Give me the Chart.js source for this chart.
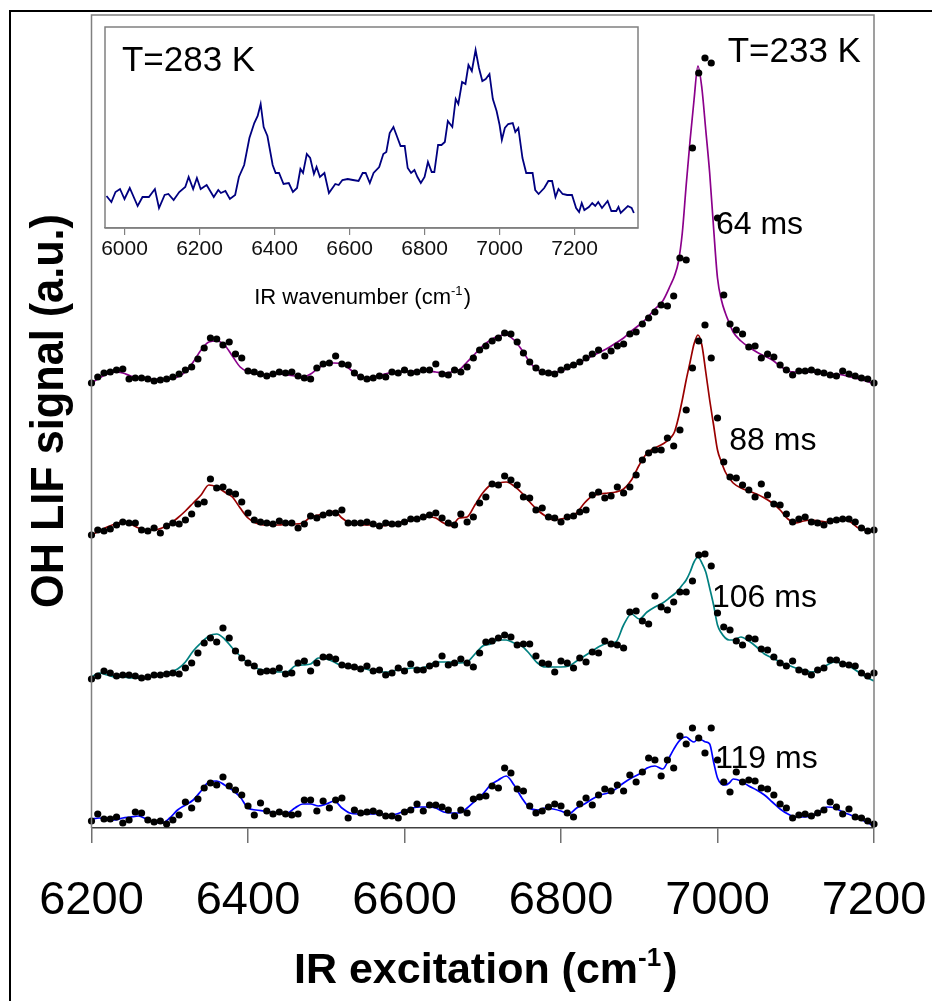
<!DOCTYPE html>
<html>
<head>
<meta charset="utf-8">
<script src="https://cdn.jsdelivr.net/npm/chart.js@4.4.1/dist/chart.umd.min.js"></script>
<style>
    html, body { margin: 0; padding: 0; background: #fff; }
    body { width: 932px; height: 1001px; position: relative; overflow: hidden; }
    #outer { position: absolute; left: 9px; top: 10px; width: 1000px; height: 1100px;
             border-left: 2px solid #000; border-top: 2px solid #000; }
    #main { position: absolute; left: 0; top: 0; }
    #inset { position: absolute; left: 60px; top: 17px; }
</style>
</head>
<body>
<div id="outer"></div>
<canvas id="main" width="932" height="1001"></canvas>
<canvas id="inset" width="620" height="300"></canvas>
<script>
// wavenumbers (cm-1) of the measured points, T = 233 K
const wnPts = [
    6200, 6208, 6216, 6224, 6232, 6240, 6248, 6256, 6264, 6272,
    6280, 6288, 6296, 6304, 6312, 6320, 6328, 6336, 6344, 6352,
    6360, 6368, 6376, 6384, 6392, 6400, 6408, 6416, 6424, 6432,
    6440, 6448, 6456, 6464, 6472, 6480, 6488, 6496, 6504, 6512,
    6520, 6528, 6536, 6544, 6552, 6560, 6568, 6576, 6584, 6592,
    6600, 6608, 6616, 6624, 6632, 6640, 6648, 6656, 6664, 6672,
    6680, 6688, 6696, 6704, 6712, 6720, 6728, 6736, 6744, 6752,
    6760, 6768, 6776, 6784, 6792, 6800, 6808, 6816, 6824, 6832,
    6840, 6848, 6856, 6864, 6872, 6880, 6888, 6896, 6904, 6912,
    6920, 6928, 6936, 6944, 6952, 6960, 6968, 6976, 6984, 6992,
    7000, 7008, 7016, 7024, 7032, 7040, 7048, 7056, 7064, 7072,
    7080, 7088, 7096, 7104, 7112, 7120, 7128, 7136, 7144, 7152,
    7160, 7168, 7176, 7184, 7192, 7200
];

// OH LIF signal (a.u., traces offset) for each delay
const pts64 = [
    445, 451, 455, 456, 458, 459, 449, 450, 450, 449,
    447, 448, 449, 451, 454, 458, 461, 469, 480, 490,
    489, 483, 486, 474, 470, 457, 456, 454, 452, 454,
    456, 455, 456, 452, 450, 449, 460, 464, 465, 472,
    464, 463, 455, 451, 449, 450, 452, 451, 456, 455,
    458, 455, 456, 458, 458, 464, 454, 453, 458, 456,
    461, 470, 478, 482, 487, 490, 495, 494, 486, 475,
    466, 460, 456, 455, 454, 458, 461, 463, 466, 470,
    474, 478, 472, 477, 482, 484, 494, 496, 504, 510,
    516, 523, 522, 532, 570, 568, 680, 755, 770, 765,
    610, 533, 504, 498, 494, 481, 482, 470, 474, 471,
    463, 458, 453, 457, 457, 458, 456, 455, 453, 452,
    457, 454, 452, 450, 449, 445
];
const pts88 = [
    293, 298, 297, 299, 303, 306, 305, 305, 298, 297,
    300, 295, 302, 305, 304, 308, 314, 324, 326, 349,
    340, 341, 336, 334, 326, 315, 308, 306, 305, 304,
    307, 305, 305, 300, 304, 312, 310, 313, 315, 315,
    318, 305, 305, 305, 306, 304, 302, 305, 304, 304,
    306, 309, 309, 311, 313, 315, 310, 305, 303, 314,
    306, 311, 325, 331, 344, 343, 352, 348, 343, 331,
    330, 318, 320, 311, 310, 306, 311, 312, 316, 318,
    333, 336, 330, 332, 341, 335, 341, 353, 368, 375,
    378, 378, 390, 382, 398, 418, 460, 487, 503, 470,
    410, 366, 351, 350, 343, 338, 331, 344, 333, 324,
    323, 314, 306, 309, 311, 306, 305, 303, 307, 308,
    309, 309, 306, 300, 297, 298
];
const pts106 = [
    149, 152, 157, 155, 152, 153, 153, 152, 150, 151,
    153, 153, 154, 155, 154, 160, 165, 175, 185, 190,
    186, 200, 190, 177, 170, 165, 162, 156, 157, 157,
    160, 154, 155, 165, 167, 157, 165, 171, 171, 169,
    163, 162, 161, 159, 162, 157, 158, 153, 155, 160,
    157, 164, 158, 158, 162, 164, 172, 163, 165, 169,
    165, 161, 175, 186, 187, 190, 193, 191, 183, 184,
    184, 172, 165, 164, 156, 167, 165, 160, 170, 166,
    176, 175, 187, 184, 183, 180, 216, 217, 207, 204,
    232, 221, 218, 226, 236, 236, 247, 273, 274, 262,
    215, 201, 198, 187, 183, 190, 189, 179, 178, 171,
    165, 162, 167, 158, 156, 153, 158, 160, 168, 168,
    164, 163, 162, 155, 152, 155
];
const pts119 = [
    7, 14, 9, 9, 11, 5, 8, 16, 15, 8,
    6, 7, 4, 8, 13, 26, 20, 29, 40, 45,
    43, 51, 42, 38, 33, 22, 13, 25, 17, 14,
    16, 14, 13, 14, 28, 28, 17, 27, 20, 28,
    30, 10, 18, 15, 16, 17, 15, 12, 12, 10,
    16, 18, 24, 17, 23, 23, 21, 18, 12, 18,
    15, 29, 31, 32, 42, 40, 60, 55, 39, 37,
    22, 15, 17, 21, 24, 22, 15, 11, 24, 30,
    23, 33, 39, 37, 43, 37, 53, 46, 56, 70,
    68, 52, 68, 60, 92, 84, 100, 90, 75, 100,
    68, 46, 36, 56, 46, 48, 47, 40, 39, 33,
    24, 20, 10, 13, 14, 12, 15, 18, 26, 21,
    14, 19, 11, 10, 7, 4
];

// wavenumbers of the smoothed curves
const wnFit = [
    6200, 6210, 6220, 6230, 6240, 6250, 6260, 6270, 6280, 6290,
    6300, 6310, 6320, 6330, 6340, 6350, 6360, 6370, 6380, 6390,
    6400, 6410, 6420, 6430, 6440, 6450, 6460, 6470, 6480, 6490,
    6500, 6510, 6520, 6530, 6540, 6550, 6560, 6570, 6580, 6590,
    6600, 6610, 6620, 6630, 6640, 6650, 6660, 6670, 6680, 6690,
    6700, 6710, 6720, 6730, 6740, 6750, 6760, 6770, 6780, 6790,
    6800, 6810, 6820, 6830, 6840, 6850, 6860, 6870, 6880, 6890,
    6900, 6910, 6920, 6930, 6940,
    6945, 6950, 6955, 6960, 6965, 6970, 6975, 6980, 6985, 6990, 6995, 7000, 7005, 7010, 7015, 7020,
    7030, 7040, 7050, 7060, 7070, 7080, 7090, 7100, 7110, 7120, 7130, 7140, 7150, 7160, 7170, 7180, 7190, 7200
];
const fit64 = [
    445, 450, 454, 456, 455, 452, 450, 449, 449, 448,
    449, 451, 456, 466, 478, 486, 487, 483, 472, 461,
    456, 454, 453, 454, 454, 453, 452, 451, 454, 460,
    464, 465, 464, 459, 452, 450, 451, 453, 455, 456,
    456, 457, 457, 457, 456, 455, 456, 458, 466, 474,
    482, 488, 492, 493, 488, 478, 466, 458, 456, 456,
    457, 460, 464, 468, 472, 476, 480, 485, 490, 497,
    503, 510, 519, 527, 543,
    552, 566, 595, 643, 688, 728, 762, 740, 698, 655, 600, 550, 528, 515, 505, 496,
    487, 481, 476, 472, 468, 462, 457, 456, 456, 456, 455, 454, 454, 453, 451, 449, 447, 444
];
const fit88 = [
    293, 297, 301, 304, 306, 304, 300, 298, 298, 300,
    304, 310, 317, 325, 333, 343, 341, 336, 331, 320,
    310, 305, 303, 303, 303, 304, 304, 305, 311, 313,
    314, 317, 310, 305, 304, 303, 303, 302, 303, 305,
    307, 308, 310, 311, 310, 305, 302, 310, 311, 323,
    335, 343, 345, 346, 342, 335, 326, 318, 312, 308,
    309, 311, 315, 325, 332, 334, 335, 336, 339, 348,
    363, 375, 380, 384, 390,
    396, 410, 428, 448, 466, 484, 493, 483, 456, 428, 403, 378, 366, 356, 350, 345,
    340, 337, 334, 330, 325, 318, 309, 305, 307, 308, 307, 306, 307, 309, 306, 300, 298, 297
];
const fit106 = [
    151, 155, 153, 151, 151, 150, 150, 151, 152, 154,
    156, 159, 166, 177, 185, 192, 194, 189, 180, 172,
    165, 160, 158, 157, 156, 156, 162, 163, 164, 170,
    169, 166, 162, 161, 160, 159, 157, 156, 156, 158,
    159, 160, 160, 162, 166, 166, 166, 165, 166, 174,
    182, 184, 188, 188, 185, 182, 174, 165, 161, 161,
    161, 162, 167, 172, 177, 182, 185, 186, 203, 214,
    209, 216, 221, 225, 231,
    234, 238, 243, 248, 256, 266, 271, 265, 256, 240, 223, 203, 195, 190, 188, 188,
    191, 187, 181, 174, 170, 166, 163, 160, 158, 156, 158, 163, 166, 164, 161, 156, 151, 147
];
const fit119 = [
    9, 10, 9, 8, 10, 11, 12, 9, 6, 5,
    10, 18, 23, 28, 37, 46, 47, 43, 38, 31,
    20, 18, 17, 16, 15, 15, 20, 24, 24, 22,
    24, 27, 20, 15, 14, 14, 14, 14, 13, 14,
    17, 20, 21, 21, 20, 16, 15, 15, 20, 27,
    34, 43, 48, 52, 43, 30, 20, 18, 20, 19,
    17, 14, 20, 24, 29, 33, 35, 39, 45, 50,
    54, 60, 62, 59, 73,
    80, 86, 90, 91, 88, 86, 89, 88, 86, 84, 66, 50, 44, 43, 45, 49,
    47, 42, 38, 33, 26, 19, 14, 11, 11, 12, 16, 21, 20, 16, 13, 10, 6, 2
];
const mainTicks = [6200, 6400, 6600, 6800, 7000, 7200];

// inset, T = 283 K
const wn283 = [
    5952, 5965, 5976, 5988, 6000, 6014, 6035, 6048, 6065, 6081,
    6092, 6107, 6117, 6131, 6146, 6162, 6171, 6183, 6193, 6203,
    6219, 6238, 6250, 6257, 6269, 6281, 6295, 6305, 6319, 6333,
    6346, 6355, 6363, 6371, 6381, 6395, 6403, 6412, 6424, 6438,
    6449, 6460, 6469, 6476, 6486, 6495, 6505, 6512, 6521, 6533,
    6545, 6562, 6571, 6581, 6595, 6609, 6624, 6635, 6643, 6654,
    6664, 6679, 6690, 6698, 6707, 6717, 6726, 6736, 6747, 6755,
    6764, 6773, 6781, 6790, 6800, 6809, 6819, 6826, 6836, 6845,
    6854, 6862, 6874, 6883, 6890, 6900, 6909, 6917, 6926, 6936,
    6945, 6954, 6963, 6973, 6982, 6992, 7000, 7006, 7014, 7023,
    7035, 7042, 7050, 7061, 7071, 7079, 7088, 7095, 7104, 7119,
    7130, 7140, 7149, 7157, 7168, 7180, 7193, 7204, 7212, 7219,
    7226, 7238, 7247, 7255, 7263, 7273, 7288, 7298, 7311, 7317,
    7323, 7342, 7352, 7358
];
const sig283 = [
    32, 26, 36, 39, 29, 40, 22, 31, 31, 39,
    20, 33, 34, 28, 36, 41, 51, 39, 50, 39,
    43, 31, 38, 35, 37, 29, 33, 51, 63, 90,
    105, 112, 124, 101, 92, 63, 55, 55, 44, 45,
    36, 40, 59, 55, 74, 70, 54, 61, 51, 55,
    35, 44, 43, 48, 49, 48, 47, 55, 55, 45,
    55, 61, 74, 76, 95, 101, 92, 82, 82, 60,
    55, 58, 51, 45, 51, 66, 56, 56, 83, 83,
    86, 107, 101, 129, 124, 146, 144, 163, 157, 178,
    160, 147, 149, 154, 129, 117, 103, 88, 100, 104,
    105, 96, 100, 70, 55, 55, 55, 38, 34, 40,
    47, 47, 31, 39, 34, 33, 33, 20, 16, 25,
    18, 21, 25, 22, 26, 20, 27, 17, 17, 21,
    15, 22, 20, 15
];
const insetTicks = [6000, 6200, 6400, 6600, 6800, 7000, 7200];

const FONT = "'Liberation Sans', Arial, sans-serif";

function toXY(xs, ys) {
    return xs.map((x, i) => ({ x: x, y: ys[i] }));
}

function dots(values) {
    return {
        data: toXY(wnPts, values),
        showLine: false,
        pointRadius: 3.6,
        pointHoverRadius: 3.6,
        pointBackgroundColor: '#000',
        pointBorderWidth: 0,
        clip: false,
        order: 0
    };
}

function fit(values, color) {
    return {
        data: toXY(wnFit, values),
        borderColor: color,
        borderWidth: 1.7,
        pointRadius: 0,
        cubicInterpolationMode: 'monotone',
        order: 1
    };
}

// text with a superscript, e.g. "(cm-1)"
function drawSupText(ctx, parts, cx, y, size, weight) {
    const big = weight + ' ' + size + 'px ' + FONT;
    const small = weight + ' ' + Math.round(size * 0.6) + 'px ' + FONT;
    ctx.save();
    ctx.font = big;
    const w1 = ctx.measureText(parts[0]).width;
    const w3 = ctx.measureText(parts[2]).width;
    ctx.font = small;
    const w2 = ctx.measureText(parts[1]).width;
    let x = cx - (w1 + w2 + w3) / 2;
    ctx.fillStyle = '#000';
    ctx.textAlign = 'left';
    ctx.textBaseline = 'alphabetic';
    ctx.font = big;
    ctx.fillText(parts[0], x, y);
    x += w1;
    ctx.font = small;
    ctx.fillText(parts[1], x, y - size * 0.4);
    x += w2 + size * 0.05;
    ctx.font = big;
    ctx.fillText(parts[2], x, y);
    ctx.restore();
}

// labels placed at data coordinates
const mainNotes = [
    { x: 7013, y: 766, text: 'T=233 K', size: 35 },
    { x: 6998, y: 594, text: '64 ms', size: 32 },
    { x: 7015, y: 378, text: '88 ms', size: 32 },
    { x: 6993, y: 221, text: '106 ms', size: 32 },
    { x: 6997, y: 60, text: '119 ms', size: 32 }
];

const framePlugin = {
    id: 'frame',
    afterDraw(chart, args, opts) {
        const { ctx, chartArea: a } = chart;
        ctx.save();
        ctx.strokeStyle = opts.color;
        ctx.lineWidth = 1.5;
        ctx.beginPath();
        ctx.moveTo(a.left, a.bottom);
        ctx.lineTo(a.left, a.top);
        ctx.lineTo(a.right, a.top);
        ctx.lineTo(a.right, a.bottom);
        if (opts.closed) ctx.lineTo(a.left, a.bottom);
        ctx.stroke();
        ctx.restore();
    }
};

const mainText = {
    id: 'mainText',
    afterDraw(chart) {
        const { ctx, chartArea: a, scales: { x, y } } = chart;
        ctx.save();
        ctx.fillStyle = '#000';
        ctx.textAlign = 'left';
        ctx.textBaseline = 'alphabetic';
        mainNotes.forEach(n => {
            ctx.font = n.size + 'px ' + FONT;
            ctx.fillText(n.text, x.getPixelForValue(n.x), y.getPixelForValue(n.y));
        });
        // y title, slightly narrow like the original
        ctx.translate(63, 411);
        ctx.rotate(-Math.PI / 2);
        ctx.scale(0.94, 1);
        ctx.textAlign = 'center';
        ctx.font = 'bold 46px ' + FONT;
        ctx.fillText('OH LIF signal (a.u.)', 0, 0);
        ctx.restore();
        drawSupText(ctx, ['IR excitation (cm', '-1', ')'], (a.left + a.right) / 2 + 2, 983, 43, 'bold');
    }
};

const insetText = {
    id: 'insetText',
    afterDraw(chart) {
        const { ctx, scales: { x, y } } = chart;
        ctx.save();
        ctx.fillStyle = '#000';
        ctx.font = '35px ' + FONT;
        ctx.textAlign = 'left';
        ctx.fillText('T=283 K', x.getPixelForValue(5993), y.getPixelForValue(157));
        ctx.restore();
        drawSupText(ctx, ['IR wavenumber (cm', '-1', ')'], 302, 287, 22, 'normal');
    }
};

function fixedTicks(list) {
    return s => { s.ticks = list.map(v => ({ value: v })); };
}

new Chart(document.getElementById('main'), {
    type: 'line',
    data: {
        datasets: [
            dots(pts64), dots(pts88), dots(pts106), dots(pts119),
            fit(fit64, '#8b008b'),
            fit(fit88, '#990000'),
            fit(fit106, '#008080'),
            fit(fit119, '#0000ff')
        ]
    },
    options: {
        responsive: false,
        animation: false,
        layout: { padding: { left: 91.5, right: 58, top: 15, bottom: 0 } },
        plugins: {
            legend: { display: false },
            tooltip: { enabled: false },
            frame: { color: '#808080', closed: false }
        },
        scales: {
            x: {
                type: 'linear',
                min: 6200,
                max: 7200,
                afterBuildTicks: fixedTicks(mainTicks),
                ticks: {
                    color: '#000',
                    padding: 30,
                    maxRotation: 0,
                    autoSkip: false,
                    font: { family: FONT, size: 47 },
                    callback: v => String(v)
                },
                grid: { drawOnChartArea: false, drawTicks: true, tickLength: 15, color: '#707070', lineWidth: 1.5 },
                border: { display: true, color: '#404040', width: 1.5 },
                afterFit: s => { s.height = 173; s.paddingLeft = 0; s.paddingRight = 0; }
            },
            y: { display: false, min: 0, max: 813 }
        }
    },
    plugins: [framePlugin, mainText]
});

new Chart(document.getElementById('inset'), {
    type: 'line',
    data: {
        datasets: [{
            data: toXY(wn283, sig283),
            borderColor: '#000080',
            borderWidth: 1.8,
            pointRadius: 0,
            tension: 0
        }]
    },
    options: {
        responsive: false,
        animation: false,
        layout: { padding: { left: 45, right: 42, top: 10, bottom: 0 } },
        plugins: {
            legend: { display: false },
            tooltip: { enabled: false },
            frame: { color: '#808080', closed: true }
        },
        scales: {
            x: {
                type: 'linear',
                min: 5948,
                max: 7369,
                afterBuildTicks: fixedTicks(insetTicks),
                ticks: {
                    color: '#111',
                    padding: 2,
                    maxRotation: 0,
                    autoSkip: false,
                    font: { family: FONT, size: 21 },
                    callback: v => String(v)
                },
                grid: { drawOnChartArea: false, drawTicks: true, tickLength: 7, color: '#808080', lineWidth: 1.2 },
                border: { display: true, color: '#808080', width: 1.5 },
                afterFit: s => { s.height = 89; s.paddingLeft = 0; s.paddingRight = 0; }
            },
            y: { display: false, min: 0, max: 201 }
        }
    },
    plugins: [framePlugin, insetText]
});
</script>
</body>
</html>
